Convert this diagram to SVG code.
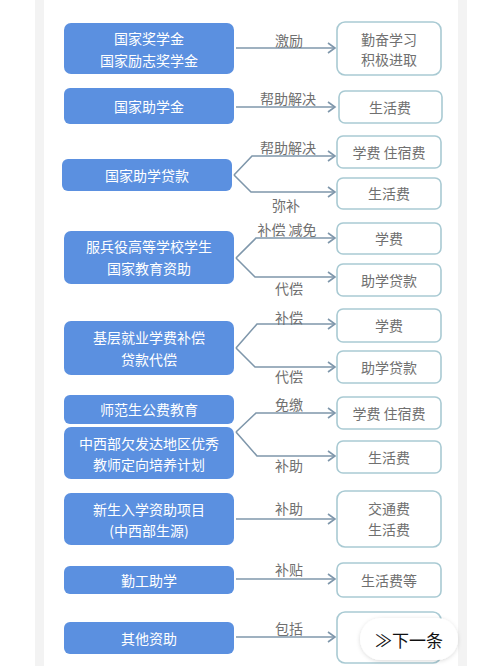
<svg xmlns="http://www.w3.org/2000/svg" width="500" height="666" viewBox="0 0 500 666">
<style>
.bg{fill:#ffffff}
.stripe{fill:#f3f3f3}
.src rect{fill:#5b90e0}
.src text{fill:#ffffff;font-family:"Noto Sans CJK SC",sans-serif;font-size:14px;text-anchor:middle;dominant-baseline:central}
.dst rect{fill:#ffffff;stroke:#a9cad3;stroke-width:1.6}
.dst text{fill:#707070;font-family:"Noto Sans CJK SC",sans-serif;font-size:14px;text-anchor:middle;dominant-baseline:central}
.lbl{fill:#707070;font-family:"Noto Sans CJK SC",sans-serif;font-size:14px;text-anchor:middle;dominant-baseline:central}
.con path{fill:none;stroke:#7f97ab;stroke-width:1.6}
</style>
<defs>
<marker id="arr" markerWidth="10" markerHeight="12" refX="8" refY="6" orient="auto" markerUnits="userSpaceOnUse">
<path d="M1,1 L8,6 L1,11" fill="none" stroke="#7f97ab" stroke-width="1.6"/>
</marker>
<filter id="sh" x="-20%" y="-40%" width="140%" height="180%">
<feDropShadow dx="0" dy="1" stdDeviation="2" flood-color="#000" flood-opacity="0.15"/>
</filter>
</defs>
<rect class="bg" x="0" y="0" width="500" height="666"/>
<rect class="stripe" x="35" y="0" width="9" height="666"/>
<rect class="stripe" x="458" y="0" width="9" height="666"/>

<g id="connectors" class="con">
<path d="M236,48 H335" marker-end="url(#arr)"/>
<path d="M236,107 H335" marker-end="url(#arr)"/>
<path d="M234,175 L252,156 H335" marker-end="url(#arr)"/>
<path d="M234,175 L251,192 H335" marker-end="url(#arr)"/>
<path d="M236,258 L256,238 H335" marker-end="url(#arr)"/>
<path d="M236,258 L255,277 H335" marker-end="url(#arr)"/>
<path d="M236,348 L257,324 H335" marker-end="url(#arr)"/>
<path d="M236,348 L255,367 H335" marker-end="url(#arr)"/>
<path d="M236,432 L256,413 H335" marker-end="url(#arr)"/>
<path d="M236,432 L257,456 H335" marker-end="url(#arr)"/>
<path d="M236,519 H335" marker-end="url(#arr)"/>
<path d="M236,579 H335" marker-end="url(#arr)"/>
<path d="M236,637 H335" marker-end="url(#arr)"/>
</g>

<g id="labels">
<text class="lbl" x="289" y="40">激励</text>
<text class="lbl" x="288" y="98">帮助解决</text>
<text class="lbl" x="288" y="147">帮助解决</text>
<text class="lbl" x="286" y="205">弥补</text>
<text class="lbl" x="287" y="229">补偿 减免</text>
<text class="lbl" x="289" y="288">代偿</text>
<text class="lbl" x="289" y="317">补偿</text>
<text class="lbl" x="289" y="376">代偿</text>
<text class="lbl" x="289" y="404">免缴</text>
<text class="lbl" x="289" y="465">补助</text>
<text class="lbl" x="289" y="508">补助</text>
<text class="lbl" x="289" y="569">补贴</text>
<text class="lbl" x="289" y="628">包括</text>
</g>

<g id="n1" class="src"><rect x="64" y="23" width="170" height="51" rx="7"/><text x="149" y="38">国家奖学金</text><text x="149" y="60">国家励志奖学金</text></g>
<g id="n2" class="src"><rect x="64" y="88" width="170" height="36" rx="6"/><text x="149" y="106">国家助学金</text></g>
<g id="n3" class="src"><rect x="62" y="159" width="170" height="32" rx="6"/><text x="147" y="175">国家助学贷款</text></g>
<g id="n4" class="src"><rect x="64" y="231" width="170" height="53" rx="7"/><text x="149" y="246">服兵役高等学校学生</text><text x="149" y="268">国家教育资助</text></g>
<g id="n5" class="src"><rect x="64" y="321" width="170" height="54" rx="7"/><text x="149" y="337">基层就业学费补偿</text><text x="149" y="359">贷款代偿</text></g>
<g id="n6" class="src"><rect x="64" y="395" width="170" height="29" rx="6"/><text x="149" y="409">师范生公费教育</text></g>
<g id="n7" class="src"><rect x="64" y="427" width="170" height="52" rx="7"/><text x="149" y="443">中西部欠发达地区优秀</text><text x="149" y="464">教师定向培养计划</text></g>
<g id="n8" class="src"><rect x="64" y="493" width="170" height="52" rx="7"/><text x="149" y="509">新生入学资助项目</text><text x="149" y="530">(中西部生源)</text></g>
<g id="n9" class="src"><rect x="64" y="566" width="170" height="28" rx="6"/><text x="149" y="580">勤工助学</text></g>
<g id="n10" class="src"><rect x="64" y="622" width="170" height="32" rx="6"/><text x="149" y="638">其他资助</text></g>

<g id="d1" class="dst"><rect x="337" y="22" width="104" height="53" rx="8"/><text x="389" y="39">勤奋学习</text><text x="389" y="59">积极进取</text></g>
<g id="d2" class="dst"><rect x="339" y="91" width="103" height="32" rx="6"/><text x="390" y="107">生活费</text></g>
<g id="d3" class="dst"><rect x="337" y="136" width="104" height="32" rx="6"/><text x="389" y="152">学费 住宿费</text></g>
<g id="d4" class="dst"><rect x="337" y="178" width="104" height="31" rx="6"/><text x="389" y="193">生活费</text></g>
<g id="d5" class="dst"><rect x="337" y="223" width="104" height="31" rx="6"/><text x="389" y="238">学费</text></g>
<g id="d6" class="dst"><rect x="337" y="264" width="104" height="32" rx="6"/><text x="389" y="280">助学贷款</text></g>
<g id="d7" class="dst"><rect x="337" y="309" width="104" height="33" rx="6"/><text x="389" y="325">学费</text></g>
<g id="d8" class="dst"><rect x="337" y="351" width="104" height="32" rx="6"/><text x="389" y="367">助学贷款</text></g>
<g id="d9" class="dst"><rect x="337" y="397" width="104" height="32" rx="6"/><text x="389" y="413">学费 住宿费</text></g>
<g id="d10" class="dst"><rect x="337" y="441" width="104" height="32" rx="6"/><text x="389" y="457">生活费</text></g>
<g id="d11" class="dst"><rect x="337" y="491" width="104" height="56" rx="8"/><text x="389" y="508">交通费</text><text x="389" y="529">生活费</text></g>
<g id="d12" class="dst"><rect x="337" y="563" width="104" height="34" rx="6"/><text x="389" y="580">生活费等</text></g>
<g id="d13" class="dst"><rect x="337" y="612" width="104" height="51" rx="8"/></g>

<g id="next">
<rect x="360" y="618" width="98" height="42" rx="21" fill="#ffffff" filter="url(#sh)"/>
<text x="409" y="639" fill="#111111" font-family="Noto Sans CJK SC,sans-serif" font-size="17" text-anchor="middle" dominant-baseline="central">≫下一条</text>
</g>
</svg>
